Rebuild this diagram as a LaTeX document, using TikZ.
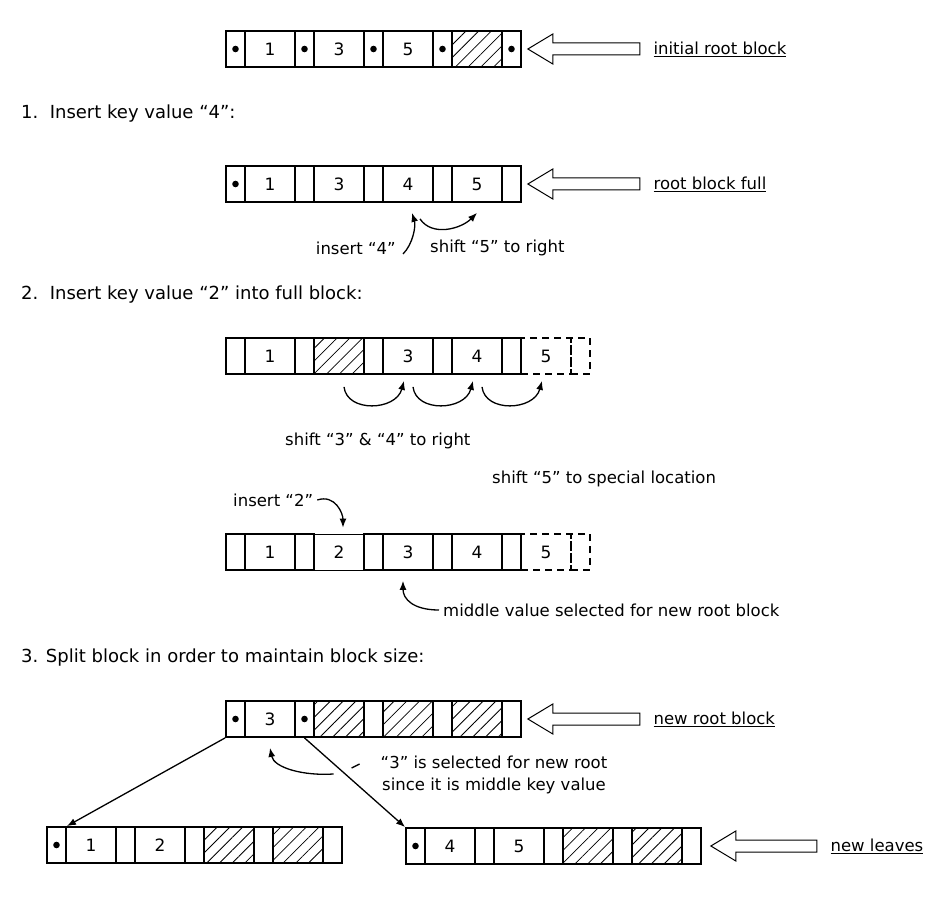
\documentclass[tikz,border=0pt]{standalone}
\usepackage{fontspec}
\setmainfont{DejaVu Sans}
\usetikzlibrary{positioning,calc,shapes.arrows,arrows.meta,patterns.meta}

\tikzset{
  ptrcell/.style={draw, line width=1.8pt, minimum width=19pt, minimum height=36pt, inner sep=0pt},
  keycell/.style={ptrcell, minimum width=50pt, font=\fontsize{17}{20}\selectfont},
  live/.style={path picture={\fill (path picture bounding box.center) circle (3.3pt);}},
  plain/.style={},
  unused/.style={pattern={Lines[angle=45,distance=9pt,line width=0.8pt]}},
  spare/.style={dash pattern=on 7pt off 5pt},
  fresh/.style={line width=0.8pt},
  bigarrow/.style={draw, single arrow, shape border rotate=180, line width=1pt,
    minimum height=112pt, inner xsep=0pt, inner ysep=5.5pt,
    single arrow head extend=9pt, single arrow tip angle=62},
  note/.style={font=\fontsize{16.5}{22}\selectfont, inner sep=1pt},
  heading/.style={font=\fontsize{18}{23}\selectfont, inner sep=1pt, anchor=west},
  link/.style={line width=1.3pt, -{Latex[length=9pt,width=7pt]}},
}

% block of pointer and key cells: name, left x, middle y, pointer styles, key style/text
\newcommand{\keyblock}[5]{%
  \foreach \st [count=\i from 0] in {#4}
    \node[ptrcell,\st] (#1p\i) at (#2+\i*69+9.5,#3) {};
  \foreach \st/\txt [count=\i] in {#5}
    \node[keycell,\st] (#1k\i) at (#2+\i*69-25,#3) {\txt};
}

\begin{document}
\begin{tikzpicture}[x=1pt,y=-1pt]
  \useasboundingbox (0,0) rectangle (948,917);
  % --- initial root block ---
  \keyblock{r0}{226}{49}{live,live,live,live,live}{plain/1,plain/3,plain/5,unused/{}}
  \node[bigarrow,anchor=tip] (a0) at ($(r0p4.east)+(5,0)$) {};
  \node[note,right=12pt of a0.tail] (t0) {\underline{initial root block}};

  % --- 1. insert 4 ---
  \node[heading] (h1) at (20,114) {1.\ \ Insert key value ``4'':};
  \keyblock{r1}{226}{184}{live,plain,plain,plain,plain}{plain/1,plain/3,plain/4,plain/5}
  \node[bigarrow,anchor=tip] (a1) at ($(r1p4.east)+(5,0)$) {};
  \node[note,right=12pt of a1.tail] (t1) {\underline{root block full}};
  \node[note,anchor=east] (ins4) at (397,248) {insert ``4''};
  \node[note,anchor=west] (sh5) at (429,248) {shift ``5'' to right};
  \draw[link] ($(ins4.east)+(6,6)$) .. controls +(10,-10) and +(4,13) .. ($(r1k3.south)+(4,10)$);
  \draw[link] ($(r1k3.south)+(12,16)$) .. controls +(12,18) and +(-16,16) .. ($(r1k4.south)+(0,10)$);

  % --- 2. insert 2 into full block ---
  \node[heading] (h2) at (20,295) {2.\ \ Insert key value ``2'' into full block:};
  \keyblock{r2}{226}{356}{plain,plain,plain,plain,plain,spare}{plain/1,unused/{},plain/3,plain/4,spare/5}
  \foreach \a/\b in {2/3,3/4,4/5}
    \draw[link] ($(r2k\a.south)+(5,12)$) .. controls +(3,26) and +(-8,30) .. ($(r2k\b.south)+(-4,6)$);
  \node[note,anchor=west] (sh34) at (284,441) {shift ``3'' \& ``4'' to right};
  \node[note,anchor=west] (sh5b) at (491,479) {shift ``5'' to special location};
  \node[note,anchor=west] (ins2) at (232,500) {insert ``2''};
  \keyblock{r3}{226}{552}{plain,plain,plain,plain,plain,spare}{plain/1,fresh/2,plain/3,plain/4,spare/5}
  \draw[link] ($(ins2.east)+(3,0)$) .. controls +(18,-6) and +(0,-14) .. ($(r3k2.north)+(4,-6)$);
  \node[note,anchor=west] (midv) at (442,610) {middle value selected for new root block};
  \draw[link] ($(midv.west)+(-3,0)$) .. controls +(-26,0) and +(0,18) .. ($(r3k3.south)+(-5,10)$);

  % --- 3. split ---
  \node[heading] (h3) at (20,658) {3. Split block in order to maintain block size:};
  \keyblock{r4}{226}{719}{live,live,plain,plain,plain}{plain/3,unused/{},unused/{},unused/{}}
  \node[bigarrow,anchor=tip] (a4) at ($(r4p4.east)+(5,0)$) {};
  \node[note,right=12pt of a4.tail] (t4) {\underline{new root block}};
  \keyblock{la}{47}{845}{live,plain,plain,plain,plain}{plain/1,plain/2,unused/{},unused/{}}
  \keyblock{lb}{406}{846}{live,plain,plain,plain,plain}{plain/4,plain/5,unused/{},unused/{}}
  \node[bigarrow,minimum height=106pt,anchor=tip] (a5) at ($(lbp4.east)+(8,0)$) {};
  \node[note,right=12pt of a5.tail] (t5) {\underline{new leaves}};
  \draw[link] (r4p0.south west) -- (lap0.north east);
  \draw[link] (r4p1.south) -- (lbp0.north west);
  \node[note,align=center] (sel3) at (494,775) {``3'' is selected for new root\\since it is middle key value};
  \draw[link] ($(sel3.west)+(-20,-11)$) -- ++(-8,4)
    ($(sel3.west)+(-46,-1)$) .. controls +(-30,2) and +(4,20) .. ($(r4k1.south)+(0,10)$);
\end{tikzpicture}
\end{document}
